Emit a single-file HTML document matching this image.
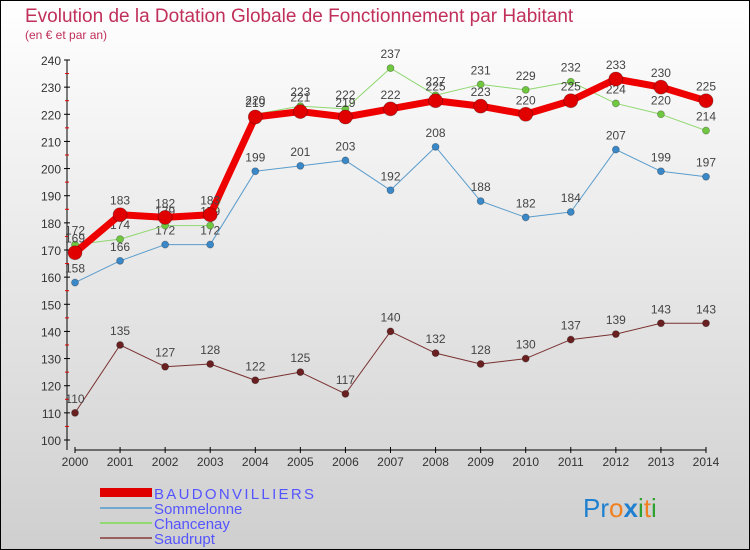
<!DOCTYPE html>
<html><head><meta charset="utf-8"><style>
body{margin:0}
svg{display:block;font-family:"Liberation Sans",sans-serif}
</style></head><body>
<svg id="c" width="750" height="550" viewBox="0 0 750 550">
<defs><linearGradient id="bg" x1="0" y1="0" x2="0" y2="1"><stop offset="0" stop-color="#ffffff"/><stop offset="1" stop-color="#cfcfcf"/></linearGradient></defs>
<rect x="0.5" y="0.5" width="749" height="549" fill="url(#bg)" stroke="#000"/>
<text x="25" y="22" font-size="19" fill="#c0305a">Evolution de la Dotation Globale de Fonctionnement par Habitant</text>
<text x="25" y="39" font-size="12" fill="#c0305a">(en € et par an)</text>
<g id="axes"></g>
<g id="series"></g>
<g id="legend" font-size="15" fill="#5555ff">
<rect x="100" y="488" width="52" height="9" fill="#e00000"/>
<text x="154" y="499" textLength="160">BAUDONVILLIERS</text>
<rect x="100" y="507" width="52" height="2" fill="#70a8d0"/>
<text x="154" y="514">Sommelonne</text>
<rect x="100" y="522" width="52" height="2" fill="#90d870"/>
<text x="154" y="529">Chancenay</text>
<rect x="100" y="537" width="52" height="2" fill="#9a6060"/>
<text x="154" y="544">Saudrupt</text>
</g>
<text x="583" y="517" font-size="26"><tspan fill="#2080d0">Pr</tspan><tspan fill="#f08020">o</tspan><tspan fill="#2080d0" font-weight="bold">x</tspan><tspan fill="#30a030">i</tspan><tspan fill="#f08020">t</tspan><tspan fill="#30a030">i</tspan></text>
</svg>
<script>
const years=[2000,2001,2002,2003,2004,2005,2006,2007,2008,2009,2010,2011,2012,2013,2014];
const yTicks=[100,110,120,130,140,150,160,170,180,190,200,210,220,230,240];
const baudonvilliers=[169,183,182,183,219,221,219,222,225,223,220,225,233,230,225];
const sommelonne=[158,166,172,172,199,201,203,192,208,188,182,184,207,199,197];
const chancenay=[172,174,179,179,220,223,222,237,227,231,229,232,224,220,214];
const saudrupt=[110,135,127,128,122,125,117,140,132,128,130,137,139,143,143];
const NS="http://www.w3.org/2000/svg";
const X=i=>75+i*(706-75)/(years.length-1);
const Y=v=>440-(v-100)*380/140;
function mk(tag,attrs,parent){const e=document.createElementNS(NS,tag);for(const k in attrs)e.setAttribute(k,attrs[k]);parent.appendChild(e);return e;}
const axes=document.getElementById('axes');
let ya=mk('line',{x1:67,y1:Y(240),x2:67,y2:450,stroke:'#000'},axes);


let xa=mk('line',{x1:75,y1:450,x2:706,y2:450,stroke:'#000'},axes);


yTicks.forEach(v=>{
 mk('line',{x1:64,y1:Y(v),x2:70,y2:Y(v),stroke:'#000'},axes);
 if(v<240) mk('line',{x1:65,y1:Y(v+5),x2:69,y2:Y(v+5),stroke:'#e00000'},axes);
 const t=mk('text',{x:61,y:Y(v)+5,'font-size':12,fill:'#333','text-anchor':'end'},axes);
 t.textContent=v;
 
 
});
years.forEach((y,i)=>{
 mk('line',{x1:X(i),y1:447,x2:X(i),y2:453,stroke:'#000'},axes);
 const t=mk('text',{x:X(i),y:466,'font-size':12,fill:'#333','text-anchor':'middle'},axes);
 t.textContent=y;
 
 
});
const sg=document.getElementById('series');
function draw(name,data,color,w,r,dot){
 const g=mk('g',{},sg);
 
 
 const l=mk('polyline',{points:data.map((v,i)=>X(i)+','+Y(v)).join(' '),fill:'none',stroke:color,'stroke-width':w,'stroke-linejoin':'round'},g);
 
 
 data.forEach((v,i)=>{
  const c=mk('circle',{cx:X(i),cy:Y(v),r:r,fill:dot,stroke:'rgba(0,0,0,0.3)','stroke-width':0.8},g);
  
  
  const t=mk('text',{x:X(i),y:Y(v)-10,'font-size':12,fill:'#444','text-anchor':'middle'},g);
  t.textContent=v;
  
  
 });
}
draw('saudrupt',saudrupt,'#7a3030',1,3.5,'#6a2020');
draw('sommelonne',sommelonne,'#5a9ccc',1,3.5,'#3a88c8');
draw('chancenay',chancenay,'#90d870',1,3.5,'#70c840');
draw('baudonvilliers',baudonvilliers,'#ee0000',7,7,'#e00000');
</script>
</body></html>
